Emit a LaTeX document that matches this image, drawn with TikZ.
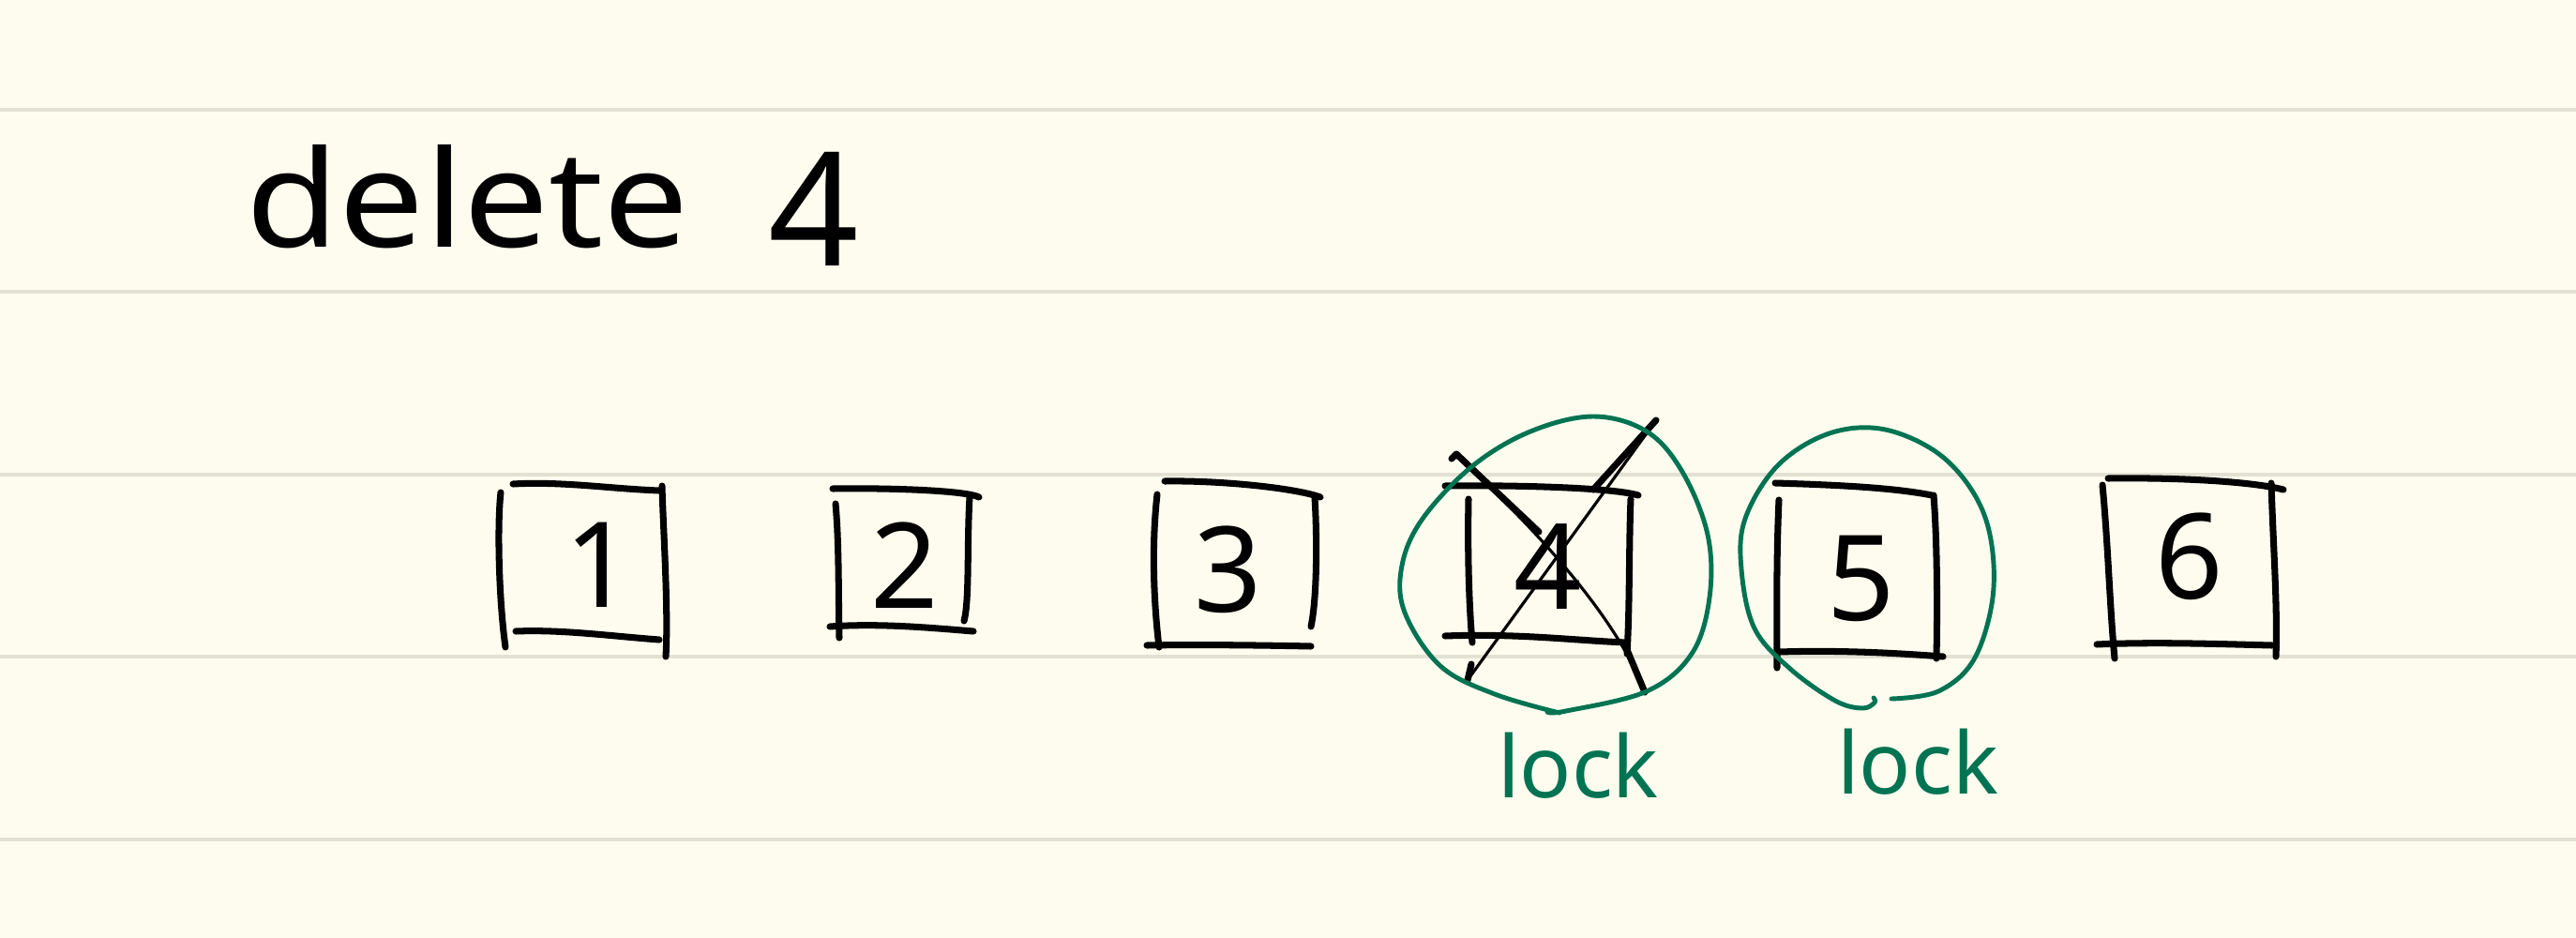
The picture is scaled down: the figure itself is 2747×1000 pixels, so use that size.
\documentclass[tikz,border=0pt]{standalone}
\usepackage{fontspec}
\setmainfont{Noto Sans}
\definecolor{paper}{HTML}{FEFCEE}
\definecolor{rulecol}{HTML}{E3E1D4}
\definecolor{lockgreen}{HTML}{007352}
\begin{document}
\begin{tikzpicture}[x=0.01cm,y=-0.01cm,
  stroke/.style={draw=black, line width=2pt, line cap=round, line join=round},
  thinstroke/.style={draw=black, line width=0.9pt, line cap=round},
  ring/.style={draw=lockgreen, line width=1.4pt, line cap=round, line join=round},
  digit/.style={font=\fontsize{36}{40}\selectfont, inner sep=0pt},
  locklabel/.style={text=lockgreen, font=\fontsize{26}{30}\selectfont\bfseries, inner sep=0pt},
  ruling/.style={draw=rulecol, line width=1.4pt}]
\fill[paper] (0,0) rectangle (2747,1000);
\useasboundingbox (0,0) rectangle (2747,1000);
\foreach \yy in {117,311,506,700,895} \draw[ruling] (0,\yy) -- (2747,\yy);

% title
\node[anchor=base west, inner sep=0pt, font=\fontsize{34}{40}\selectfont] (title) at (262,263)
  {\scalebox{1.35}[1.2]{delete}\hspace{24pt}\raisebox{-5.7pt}{\fontsize{48}{52}\selectfont 4}};

% digits
\node[digit] (d1) at (639,602) {1};
\node[digit] (d2) at (965,603) {2};
\node[digit] (d3) at (1310,607) {3};
\node[digit] (d4) at (1651,604) {4};
\node[digit] (d5) at (1985,617) {5};
\node[digit] (d6) at (2335,593) {6};

% box 1
\draw[stroke] (547,516) .. controls (600,513) and (650,521) .. (703,523);
\draw[stroke] (534,525) .. controls (530,560) and (532,640) .. (539,690);
\draw[stroke] (550,673) .. controls (600,671) and (650,678) .. (703,682);
\draw[stroke] (706,518) .. controls (707,560) and (713,650) .. (710,700);
% box 2
\draw[stroke] (888,521) .. controls (950,520) and (1030,523) .. (1044,530);
\draw[stroke] (891,537) .. controls (895,580) and (894,640) .. (895,680);
\draw[stroke] (885,668) .. controls (940,664) and (1000,670) .. (1038,673);
\draw[stroke] (1034,530) .. controls (1031,580) and (1034,640) .. (1028,662);
% box 3
\draw[stroke] (1242,513) .. controls (1300,512) and (1380,520) .. (1408,530);
\draw[stroke] (1234,527) .. controls (1228,580) and (1230,640) .. (1236,690);
\draw[stroke] (1223,688) .. controls (1280,687) and (1350,688) .. (1398,689);
\draw[stroke] (1402,530) .. controls (1405,580) and (1404,640) .. (1398,668);
% box 4
\draw[stroke] (1541,518) .. controls (1620,517) and (1720,520) .. (1747,528);
\draw[stroke] (1566,532) .. controls (1565,580) and (1566,640) .. (1570,685);
\draw[stroke] (1541,678) .. controls (1620,675) and (1680,683) .. (1735,685);
\draw[stroke] (1739,532) .. controls (1737,580) and (1738,650) .. (1735,697);
% box 5
\draw[stroke] (1893,515) .. controls (1960,517) and (2020,520) .. (2060,528);
\draw[stroke] (1897,533) .. controls (1894,600) and (1895,660) .. (1895,712);
\draw[stroke] (1897,695) .. controls (1960,693) and (2020,696) .. (2072,700);
\draw[stroke] (2062,528) .. controls (2066,580) and (2066,650) .. (2065,702);
% box 6
\draw[stroke] (2248,510) .. controls (2320,509) and (2400,513) .. (2435,522);
\draw[stroke] (2242,517) .. controls (2248,580) and (2250,650) .. (2255,702);
\draw[stroke] (2236,687) .. controls (2300,684) and (2380,687) .. (2423,688);
\draw[stroke] (2422,515) .. controls (2424,580) and (2429,650) .. (2427,700);

% cross over 4
\draw[thinstroke] (1553,486) .. controls (1640,565) and (1725,660) .. (1754,738);
\draw[stroke] (1548,489) -- (1553,484) -- (1641,567);
\draw[stroke] (1733,688) -- (1754,738);
\draw[thinstroke] (1766,448) -- (1565,725);
\draw[stroke] (1766,448) -- (1699,522);
\draw[stroke] (1569,708) -- (1565,725);

% rings
\draw[ring] plot[smooth, tension=0.6] coordinates {
  (1663,760) (1594,740) (1536,710) (1498,653) (1495,603) (1517,553) (1570,497)
  (1632,460) (1699,444) (1756,460) (1794,503) (1821,570) (1823,637) (1804,697)
  (1756,737) (1670,758) (1650,759)};
\draw[ring] plot[smooth, tension=0.6] coordinates {
  (2017,745) (2067,737) (2105,703) (2125,637) (2122,570) (2101,520) (2062,480)
  (2005,457) (1948,463) (1895,497) (1861,553) (1857,607) (1871,670) (1909,713)
  (1957,747) (1986,755) (1999,749) (1998,744)};

% labels
\node[locklabel, anchor=base] (lock4) at (1683,850) {lock};
\node[locklabel, anchor=base] (lock5) at (2045,846) {lock};
\end{tikzpicture}
\end{document}
